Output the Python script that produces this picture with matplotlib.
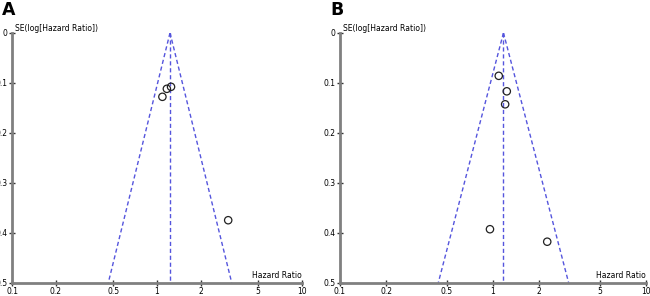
import numpy as np
import matplotlib
matplotlib.use("Agg")
import matplotlib.pyplot as plt

# panel A
hr_a = [1.25, 1.17, 1.09, 3.1]
se_a = [0.108, 0.112, 0.128, 0.375]
pooled_a = 1.23

# panel B
hr_b = [1.09, 1.23, 1.20, 0.955, 2.26]
se_b = [0.086, 0.117, 0.143, 0.393, 0.418]
pooled_b = 1.17

xticks = [0.1, 0.2, 0.5, 1, 2, 5, 10]
xticklabels = ["0.1", "0.2", "0.5", "1", "2", "5", "10"]
yticks = [0, 0.1, 0.2, 0.3, 0.4, 0.5]
yticklabels = ["0", "0.1", "0.2", "0.3", "0.4", "0.5"]

fig = plt.figure(figsize=(6.5, 2.96), dpi=100)


def funnel(ax, hr, se, pooled):
    se_line = np.array([0, 0.5])
    ax.plot(pooled * np.exp(-1.96 * se_line), se_line, "--", color="#5555dd", lw=1, dashes=(3, 2))
    ax.plot(pooled * np.exp(1.96 * se_line), se_line, "--", color="#5555dd", lw=1, dashes=(3, 2))
    ax.plot([pooled, pooled], [0, 0.5], "--", color="#5555dd", lw=1, dashes=(3, 2))
    ax.scatter(hr, se, s=28, facecolors="none", edgecolors="#222222", linewidths=0.9, zorder=3)
    ax.set_xscale("log")
    ax.set_xlim(0.1, 10)
    ax.set_ylim(0.5, 0)
    ax.set_xticks(xticks)
    ax.set_xticklabels(xticklabels)
    ax.minorticks_off()
    ax.set_yticks(yticks)
    ax.set_yticklabels(yticklabels)
    for s in ["top", "right"]:
        ax.spines[s].set_visible(False)
    for s in ["left", "bottom"]:
        ax.spines[s].set_color("#808080")
        ax.spines[s].set_linewidth(2)
    ax.tick_params(direction="inout", length=5, width=1, labelsize=5.5, pad=0.5, color="#333333")
    ax.set_facecolor("none")
    ax.text(0.01, 1.0, "SE(log[Hazard Ratio])", transform=ax.transAxes, fontsize=5.5, va="bottom", ha="left")
    ax.text(1.0, 0.01, "Hazard Ratio", transform=ax.transAxes, fontsize=5.5, va="bottom", ha="right")


ax1 = fig.add_axes([0.0185, 0.045, 0.446, 0.844])
funnel(ax1, hr_a, se_a, pooled_a)
ax2 = fig.add_axes([0.523, 0.045, 0.471, 0.844])
funnel(ax2, hr_b, se_b, pooled_b)

fig.text(0.003, 0.995, "A", fontsize=12.5, fontweight="bold", va="top", ha="left")
fig.text(0.508, 0.995, "B", fontsize=12.5, fontweight="bold", va="top", ha="left")

fig.savefig("out.png", dpi=100)
